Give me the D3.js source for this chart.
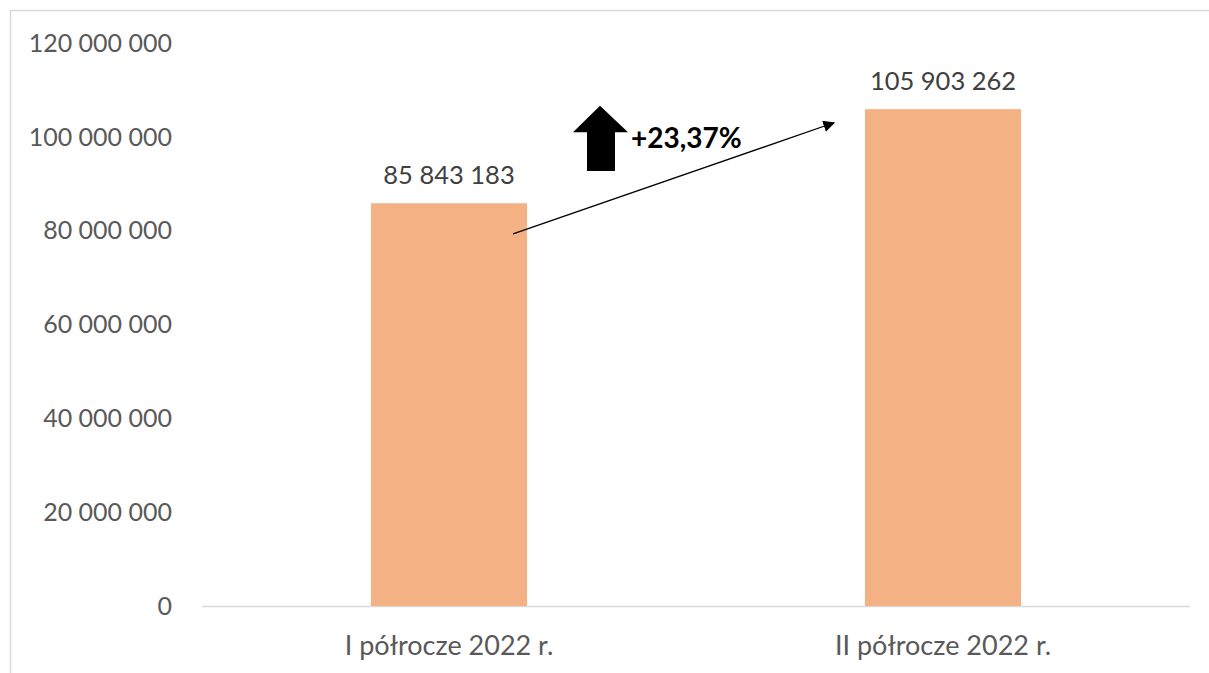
<!DOCTYPE html>
<html>
<head>
<meta charset="utf-8">
<script src="https://cdn.jsdelivr.net/npm/d3@7"></script>
<style>
  body { margin: 0; background: #fff; }
  svg { display: block; font-family: Lato, "Open Sans", sans-serif; }
</style>
</head>
<body>
<svg id="drawing_region"></svg>
<script>
const categories = ["I półrocze 2022 r.", "II półrocze 2022 r."];
const values = [85843183, 105903262];
const yTicks = [0, 20000000, 40000000, 60000000, 80000000, 100000000, 120000000];

const width = 1209, height = 673;
const margin = { top: 43, right: 19, bottom: 67, left: 202 };

const svg = d3.select("#drawing_region")
    .attr("width", width)
    .attr("height", height);

// chart border (only top and left visible in the crop)
svg.append("path")
    .attr("d", `M10.5,${height} V10.5 H${width}`)
    .attr("fill", "none")
    .attr("stroke", "#d9d9d9")
    .attr("stroke-width", 1.5);

const x = d3.scaleBand()
    .domain(categories)
    .range([margin.left, width - margin.right])
    .padding(0);

const y = d3.scaleLinear()
    .domain([0, 120000000])
    .range([height - margin.bottom, margin.top]);

const fmt = v => d3.format(",")(v).replace(/,/g, " ");
const barW = x.bandwidth() * 0.316;

// y axis labels
svg.append("g")
    .selectAll("text")
    .data(yTicks)
    .join("text")
    .attr("x", 172)
    .attr("y", d => y(d))
    .attr("dy", "0.35em")
    .attr("text-anchor", "end")
    .attr("fill", "#595959")
    .attr("font-size", 25)
    .text(fmt);

// x axis line
svg.append("line")
    .attr("x1", margin.left).attr("x2", width - margin.right)
    .attr("y1", y(0) + 0.5).attr("y2", y(0) + 0.5)
    .attr("stroke", "#d9d9d9")
    .attr("stroke-width", 1.5);

// bars
svg.append("g")
    .selectAll("rect")
    .data(values)
    .join("rect")
    .attr("x", (d, i) => x(categories[i]) + x.bandwidth() / 2 - barW / 2)
    .attr("y", d => y(d))
    .attr("width", barW)
    .attr("height", d => y(0) - y(d))
    .attr("fill", "#f4b183");

// value labels
svg.append("g")
    .selectAll("text")
    .data(values)
    .join("text")
    .attr("x", (d, i) => x(categories[i]) + x.bandwidth() / 2)
    .attr("y", d => y(d) - 19)
    .attr("text-anchor", "middle")
    .attr("fill", "#404040")
    .attr("font-size", 25.5)
    .text(fmt);

// category labels
svg.append("g")
    .selectAll("text")
    .data(categories)
    .join("text")
    .attr("x", d => x(d) + x.bandwidth() / 2)
    .attr("y", height - 18)
    .attr("text-anchor", "middle")
    .attr("fill", "#595959")
    .attr("font-size", 27)
    .text(d => d);

// growth annotation
const growth = (values[1] / values[0] - 1) * 100;
const growthLabel = "+" + growth.toFixed(2).replace(".", ",") + "%";

svg.append("defs").append("marker")
    .attr("id", "head")
    .attr("viewBox", "0 0 10 10")
    .attr("refX", 9).attr("refY", 5)
    .attr("markerWidth", 9).attr("markerHeight", 9)
    .attr("orient", "auto")
    .append("path")
    .attr("d", "M0,0 L10,5 L0,10 Z")
    .attr("fill", "#000");

const c1 = x(categories[0]) + x.bandwidth() / 2;
const c2 = x(categories[1]) + x.bandwidth() / 2;

svg.append("line")
    .attr("x1", c1 + barW / 2 - 14)
    .attr("y1", y(79300000))
    .attr("x2", c2 - barW / 2 - 31)
    .attr("y2", y(103000000))
    .attr("stroke", "#000")
    .attr("stroke-width", 1.3)
    .attr("marker-end", "url(#head)");

// block up arrow
const ax = 600, aTop = y(106600000), aBase = y(101000000), aBot = y(92700000);
svg.append("path")
    .attr("d", `M${ax},${aTop} L${ax + 28},${aBase} L${ax + 15},${aBase} L${ax + 15},${aBot}
                L${ax - 13},${aBot} L${ax - 13},${aBase} L${ax - 27},${aBase} Z`)
    .attr("fill", "#000");

svg.append("text")
    .attr("x", 631)
    .attr("y", 148)
    .attr("font-size", 28)
    .attr("font-weight", "bold")
    .attr("fill", "#000")
    .text(growthLabel);
</script>
</body>
</html>
